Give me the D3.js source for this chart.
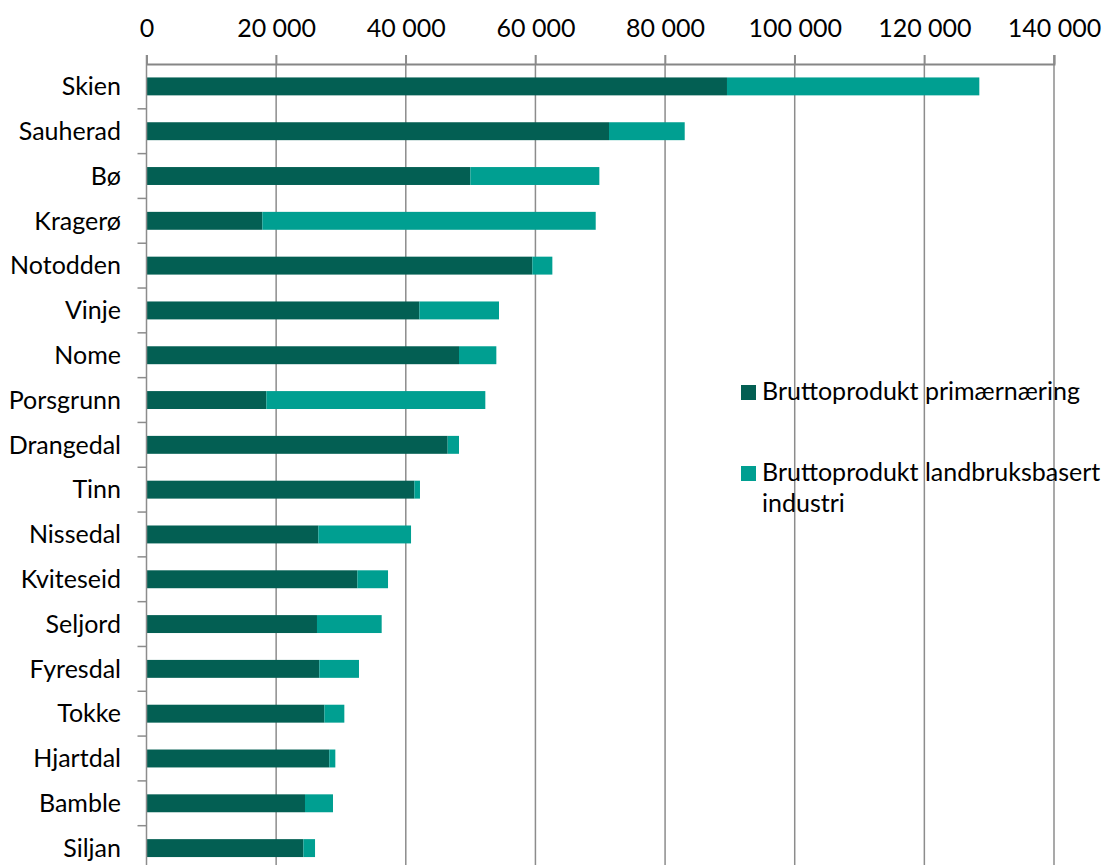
<!DOCTYPE html>
<html>
<head>
<meta charset="utf-8">
<script src="https://cdn.jsdelivr.net/npm/d3@7"></script>
<style>
  html, body { margin: 0; padding: 0; background: #fff; }
  svg { display: block; }
  text { font-family: Lato, "Open Sans", sans-serif; fill: #000; }
</style>
</head>
<body>
<svg id="chart" width="1102" height="865"></svg>
<script>
const categories = ["Skien","Sauherad","Bø","Kragerø","Notodden","Vinje","Nome","Porsgrunn","Drangedal","Tinn","Nissedal","Kviteseid","Seljord","Fyresdal","Tokke","Hjartdal","Bamble","Siljan"];
const primaer = [89550,71350,49960,17870,59520,42090,48210,18490,46460,41320,26510,32530,26300,26660,27440,28200,24450,24200];
const industri = [38930,11680,19900,51430,3090,12290,5760,33780,1750,870,14300,4730,9980,6120,3080,930,4320,1800];
const seriesNames = ["Bruttoprodukt primærnæring","Bruttoprodukt landbruksbasert industri"];
const tickValues = [0,20000,40000,60000,80000,100000,120000,140000];
const colors = ["#035f53","#009f91"];

const svg = d3.select("#chart");
const fontSize = 25;
const pLeft = 146.5, pRight = 1054, pTop = 64, pBottom = 870.5;

const x = d3.scaleLinear().domain([0,140000]).range([pLeft,pRight]);
const y = d3.scaleBand().domain(categories).range([pTop,pBottom]).paddingInner(0.6).paddingOuter(0.3);
const yb = d3.scaleBand().domain(categories).range([pTop,pBottom]);

const fmt = v => d3.format(",")(v).replace(/,/g, " ");

// gridlines
svg.append("g").selectAll("line").data(tickValues.slice(1)).join("line")
  .attr("x1", d => x(d)).attr("x2", d => x(d))
  .attr("y1", pTop - 9).attr("y2", 865)
  .attr("stroke", "#8c8c8c").attr("stroke-width", 1.5);

// stacked data
const data = categories.map((c,i) => ({cat:c, a:primaer[i], b:industri[i]}));
const stack = d3.stack().keys(["a","b"])(data);

svg.append("g").selectAll("g").data(stack).join("g")
  .attr("fill", (d,i) => colors[i])
  .selectAll("rect").data(d => d).join("rect")
  .attr("x", d => x(d[0]))
  .attr("width", d => x(d[1]) - x(d[0]))
  .attr("y", d => y(d.data.cat))
  .attr("height", y.bandwidth());

// top axis
const xAxis = d3.axisTop(x).tickValues(tickValues).tickFormat(fmt).tickSize(9).tickPadding(18);
const gx = svg.append("g").attr("transform", `translate(0,${pTop})`).call(xAxis);
gx.select(".domain").attr("stroke", "#868686").attr("stroke-width", 2);
gx.selectAll(".tick line").attr("stroke", "#8c8c8c").attr("stroke-width", 1.5);
gx.selectAll(".tick text").attr("font-size", fontSize).attr("font-family", "Lato, sans-serif").attr("fill", "#000");

// left axis
svg.append("line").attr("x1", pLeft).attr("x2", pLeft).attr("y1", pTop - 9).attr("y2", 865)
  .attr("stroke", "#8c8c8c").attr("stroke-width", 1.5);
svg.append("g").selectAll("line").data(categories.slice(1)).join("line")
  .attr("x1", pLeft - 9).attr("x2", pLeft)
  .attr("y1", d => yb(d)).attr("y2", d => yb(d))
  .attr("stroke", "#8c8c8c").attr("stroke-width", 1.5);
svg.append("g").selectAll("text").data(categories).join("text")
  .attr("x", 121).attr("y", d => y(d) + y.bandwidth()/2)
  .attr("dy", "0.35em").attr("text-anchor", "end")
  .attr("font-size", fontSize).text(d => d);

// legend
const leg = svg.append("g");
leg.append("rect").attr("x", 741).attr("y", 385).attr("width", 15).attr("height", 15).attr("fill", colors[0]);
leg.append("text").attr("x", 762).attr("y", 400).attr("font-size", fontSize).text(seriesNames[0]);
leg.append("rect").attr("x", 741).attr("y", 466).attr("width", 15).attr("height", 15).attr("fill", colors[1]);
leg.append("text").attr("x", 762).attr("y", 481).attr("font-size", fontSize).text("Bruttoprodukt landbruksbasert");
leg.append("text").attr("x", 762).attr("y", 512).attr("font-size", fontSize).text("industri");
</script>
</body>
</html>
